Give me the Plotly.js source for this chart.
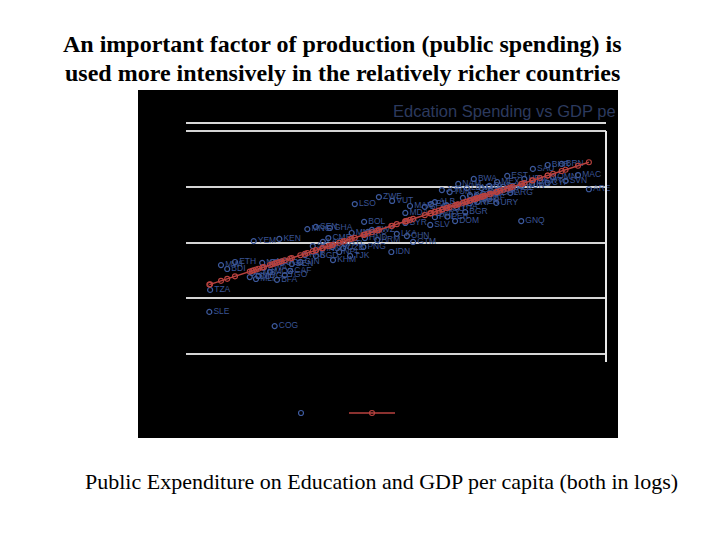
<!DOCTYPE html>
<html>
<head>
<meta charset="utf-8">
<script src="https://cdn.plot.ly/plotly-3.0.1.min.js"></script>
<style>html,body{margin:0;padding:0;background:#fff;}#chart{width:720px;height:540px;}</style>
</head>
<body>
<div id="chart"></div>
<script>
// ---- data ----
const countries = ["TZA","SLE","COG","ETH","MWI","BDI","KEN","YEM","BFA","CAF","NGA","NER","MOZ","GMB","MDG","TCD","MLI","RWA","UGA","BEN","TGO","GIN",
"LSO","ZWE","VUT","BOL","MNG","SEN","GHA","CMR","LAO","PNG","IDN","BGD","KHM","NPL","TJK","HND","NIC","ARM","LKA","SDN","CIV","UZB","CHN","GTM","PAK","IND","HTI","MMR","SWZ",
"MAR","MDA","GEO","ALB","PHL","PER","SYR","SLV","DOM","BGR","THA","CRI","MUS","URY","BRA","ZAF","JOR","TUN","LBN","NAM","BWA","EST","MEX","CHL","ARG","GNQ","SAU","BHR","BRN","MAC","ARE","KWT","OMN","ISR","CYP","SVN","HUN","POL","HRV","LTU","LVA","MYS","TUR","RUS","KAZ","COL","PAN","VEN","ECU","PRY","JAM","FJI"];
const logGdpPc = [6.11,6.10,6.94,6.43,6.25,6.33,7.00,6.67,6.97,7.14,6.91,6.78,6.88,6.65,6.73,6.62,6.70,6.80,7.03,7.16,7.07,7.27,
7.97,8.28,8.45,8.09,7.36,7.47,7.65,7.63,7.56,8.08,8.44,7.47,7.69,7.77,7.91,8.10,8.14,8.26,8.51,7.43,7.68,7.82,8.64,8.72,7.33,7.55,7.84,7.93,8.19,
8.68,8.62,8.87,9.00,9.00,9.16,8.62,8.94,9.26,9.39,9.28,9.45,9.52,9.79,9.54,9.64,9.09,9.19,9.41,9.30,9.50,9.93,9.80,9.80,9.97,10.11,10.26,10.45,10.63,10.84,10.98,10.35,10.52,10.25,10.45,10.68,10.12,10.00,10.15,9.88,9.84,9.72,9.62,9.70,9.45,9.36,9.60,9.55,9.10,9.05,9.15,8.95];
const logEduSpending = [2.30,1.51,1.00,3.30,3.19,3.05,4.13,4.05,2.66,2.98,3.30,3.27,2.94,2.91,2.80,2.76,2.69,3.09,3.27,3.23,2.83,3.30,
5.38,5.63,5.49,4.74,4.48,4.56,4.52,4.16,4.02,3.84,3.66,3.52,3.37,3.66,3.52,4.16,4.38,4.09,4.31,3.87,3.84,3.80,4.23,4.02,3.55,3.77,3.95,4.34,4.45,
5.31,5.06,5.28,5.45,4.91,4.93,4.70,4.63,4.77,5.09,5.27,5.41,5.52,5.42,5.70,5.60,5.88,5.81,5.95,6.10,6.28,6.39,6.17,5.78,5.78,4.77,6.64,6.78,6.82,6.42,5.91,6.20,6.35,6.10,6.14,6.21,6.03,5.95,6.28,6.00,5.88,5.85,5.74,6.03,5.70,5.60,5.95,5.46,5.20,5.06,5.34,5.38];
const yTicks = [0, 2, 4, 6, 8];
const seriesNames = ["Education spending (log)", "Fitted values"];

// fitted values: ordinary least squares of the scatter
const n = logGdpPc.length;
const mx = logGdpPc.reduce((a,b)=>a+b,0)/n;
const my = logEduSpending.reduce((a,b)=>a+b,0)/n;
let sxy = 0, sxx = 0;
for (let i=0;i<n;i++){ sxy += (logGdpPc[i]-mx)*(logEduSpending[i]-my); sxx += (logGdpPc[i]-mx)**2; }
const b1 = sxy/sxx, b0 = my - b1*mx;
const order = logGdpPc.map((v,i)=>i).sort((a,b)=>logGdpPc[a]-logGdpPc[b]);
const fitX = order.map(i=>logGdpPc[i]);
const fitY = fitX.map(v=>b0+b1*v);

const blue = '#3d5a9e', red = '#b9423f';

const traces = [
  {x: logGdpPc, y: logEduSpending, text: countries, name: seriesNames[0],
   mode: 'markers+text', type: 'scatter', textposition: 'middle right', cliponaxis: false,
   textfont: {family: 'Liberation Sans, Arial, sans-serif', size: 8.5, color: '#3a5494'},
   marker: {symbol: 'circle-open', size: 5, color: blue, line: {width: 1.2, color: blue}}},
  {x: fitX, y: fitY, name: seriesNames[1], mode: 'lines+markers', type: 'scatter',
   line: {color: red, width: 1.5},
   marker: {symbol: 'circle-open', size: 5, color: red, line: {width: 1.1, color: red}}}
];

// plot area in pixels: x 186..606, y 123..362
const L=186, R=606, T=123, B=362;
const px = v => (v-L)/(R-L);
const py = v => (B-v)/(B-T);

const layout = {
  width: 720, height: 540,
  margin: {l: L, r: 720-R, t: T, b: 540-B},
  paper_bgcolor: '#ffffff', plot_bgcolor: '#000000',
  showlegend: true,
  legend: {orientation: 'h', x: px(273), y: py(413), xanchor: 'left', yanchor: 'middle',
           bgcolor: 'rgba(0,0,0,0)', font: {color: '#000000', size: 9, family: 'Liberation Sans'},
           itemwidth: 46, entrywidth: 10, entrywidthmode: 'pixels'},
  xaxis: {range: [5.8, 11.2], showgrid: false, zeroline: false, showticklabels: false, ticks: '', showline: false},
  yaxis: {range: [-0.287, 8.287], tickvals: yTicks, showgrid: true, gridcolor: '#d4d4d4', gridwidth: 2,
          zeroline: false, showticklabels: false, ticks: '', showline: false},
  shapes: [
    {type: 'rect', xref: 'paper', yref: 'paper', x0: px(138), x1: px(618), y0: py(438), y1: py(90),
     fillcolor: '#000000', line: {width: 0}, layer: 'below'},
    {type: 'line', xref: 'paper', yref: 'paper', x0: 0, x1: 1, y0: 1, y1: 1, line: {color: '#d8d8d8', width: 2}},
    {type: 'line', xref: 'paper', yref: 'paper', x0: 1, x1: 1, y0: 0, y1: py(131), line: {color: '#e8e8e8', width: 2}}
  ],
  annotations: [
    {text: 'Edcation Spending vs GDP pe', xref: 'paper', yref: 'paper', x: px(391), y: py(111),
     xanchor: 'left', yanchor: 'middle', showarrow: false,
     font: {family: 'Liberation Sans, Arial, sans-serif', size: 16.5, color: '#2c3a5e'}},
    {text: '<b>An important factor of production (public spending) is</b>', xref: 'paper', yref: 'paper',
     x: px(342), y: py(44), xanchor: 'center', yanchor: 'middle', showarrow: false,
     font: {family: 'Liberation Serif, Times New Roman, serif', size: 24, color: '#000'}},
    {text: '<b>used more intensively in the relatively richer countries</b>', xref: 'paper', yref: 'paper',
     x: px(342), y: py(73), xanchor: 'center', yanchor: 'middle', showarrow: false,
     font: {family: 'Liberation Serif, Times New Roman, serif', size: 24, color: '#000'}},
    {text: 'Public Expenditure on Education and GDP per capita (both in logs)', xref: 'paper', yref: 'paper',
     x: px(381), y: py(481), xanchor: 'center', yanchor: 'middle', showarrow: false,
     font: {family: 'Liberation Serif, Times New Roman, serif', size: 22, color: '#000'}}
  ]
};

Plotly.newPlot('chart', traces, layout, {displayModeBar: false, staticPlot: true});
</script>
</body>
</html>
